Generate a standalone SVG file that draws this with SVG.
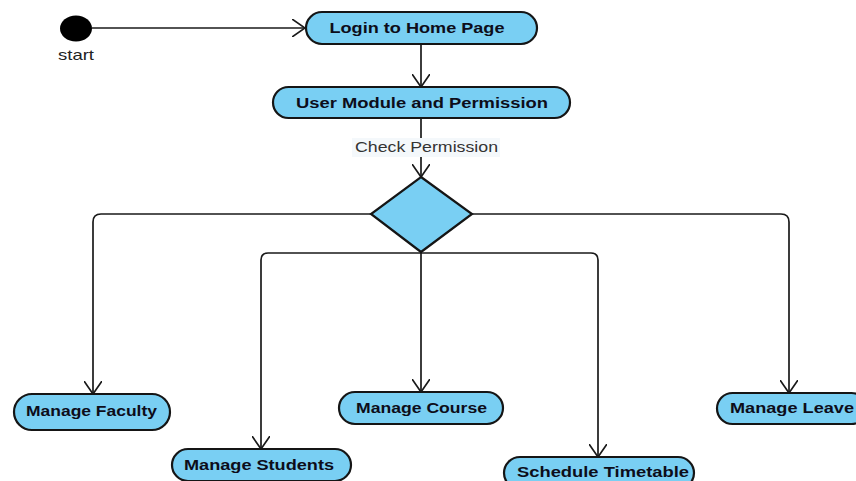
<svg xmlns="http://www.w3.org/2000/svg" width="856" height="481" viewBox="0 0 856 481">
<defs>
<marker id="arr" viewBox="0 0 14 18" refX="13" refY="9" markerWidth="14" markerHeight="18" markerUnits="userSpaceOnUse" orient="auto">
<path d="M0,0 L13,9 L0,18" fill="none" stroke="#1a1a1a" stroke-width="1.7"/>
</marker>
<style>
.node{fill:#79cff3;stroke:#151515;stroke-width:2.2}
.lbl{font-family:"Liberation Sans",Arial,sans-serif;font-weight:bold;font-size:14.5px;fill:#0d0d1a;text-anchor:middle}
.txt{font-family:"Liberation Sans",Arial,sans-serif;font-size:14.5px;fill:#333}
.con{fill:none;stroke:#1a1a1a;stroke-width:1.7}
</style>
</defs>
<rect width="856" height="481" fill="#ffffff"/>
<g id="connectors">
<path class="con" d="M92,28 L305,28" marker-end="url(#arr)"/>
<path class="con" d="M421,44 V87" marker-end="url(#arr)"/>
<path class="con" d="M421,118 V177" marker-end="url(#arr)"/>
<path class="con" d="M371,214 H101 Q93,214 93,222 V394" marker-end="url(#arr)"/>
<path class="con" d="M472,214 H781 Q789,214 789,222 V393" marker-end="url(#arr)"/>
<path class="con" d="M421,252 V392" marker-end="url(#arr)"/>
<path class="con" d="M421,253 H268 Q261,253 261,260 V449" marker-end="url(#arr)"/>
<path class="con" d="M421,253 H591 Q598,253 598,260 V457" marker-end="url(#arr)"/>
<rect x="352" y="138" width="148" height="19" fill="#f4f8fb"/>
<text class="txt" x="355" y="152" textLength="143" lengthAdjust="spacingAndGlyphs">Check Permission</text>
</g>
<g id="start">
<ellipse cx="76" cy="28.5" rx="16" ry="13" fill="#000"/>
<text class="txt" x="58" y="60" textLength="36" lengthAdjust="spacingAndGlyphs" style="fill:#222">start</text>
</g>
<g id="login">
<rect class="node" x="306" y="12" width="231" height="32" rx="16"/>
<text class="lbl" x="417" y="33" textLength="175" lengthAdjust="spacingAndGlyphs">Login to Home Page</text>
</g>
<g id="usermodule">
<rect class="node" x="273" y="87" width="297" height="31" rx="15.5"/>
<text class="lbl" x="422" y="108" textLength="252" lengthAdjust="spacingAndGlyphs">User Module and Permission</text>
</g>
<g id="decision">
<polygon class="node" points="421,177 472,214 421,252 371,214"/>
</g>
<g id="faculty">
<rect class="node" x="14" y="394" width="156" height="36" rx="18"/>
<text class="lbl" x="91.5" y="416" textLength="131" lengthAdjust="spacingAndGlyphs">Manage Faculty</text>
</g>
<g id="students">
<rect class="node" x="172" y="449" width="179" height="32" rx="16"/>
<text class="lbl" x="259" y="470" textLength="150" lengthAdjust="spacingAndGlyphs">Manage Students</text>
</g>
<g id="course">
<rect class="node" x="339" y="392" width="164" height="32" rx="16"/>
<text class="lbl" x="421.5" y="413" textLength="131" lengthAdjust="spacingAndGlyphs">Manage Course</text>
</g>
<g id="timetable">
<rect class="node" x="504" y="457" width="190" height="32" rx="16"/>
<text class="lbl" x="603" y="477" textLength="172" lengthAdjust="spacingAndGlyphs">Schedule Timetable</text>
</g>
<g id="leave">
<rect class="node" x="717" y="393" width="150" height="31" rx="15.5"/>
<text class="lbl" x="792" y="413" textLength="124" lengthAdjust="spacingAndGlyphs">Manage Leave</text>
</g>
</svg>
